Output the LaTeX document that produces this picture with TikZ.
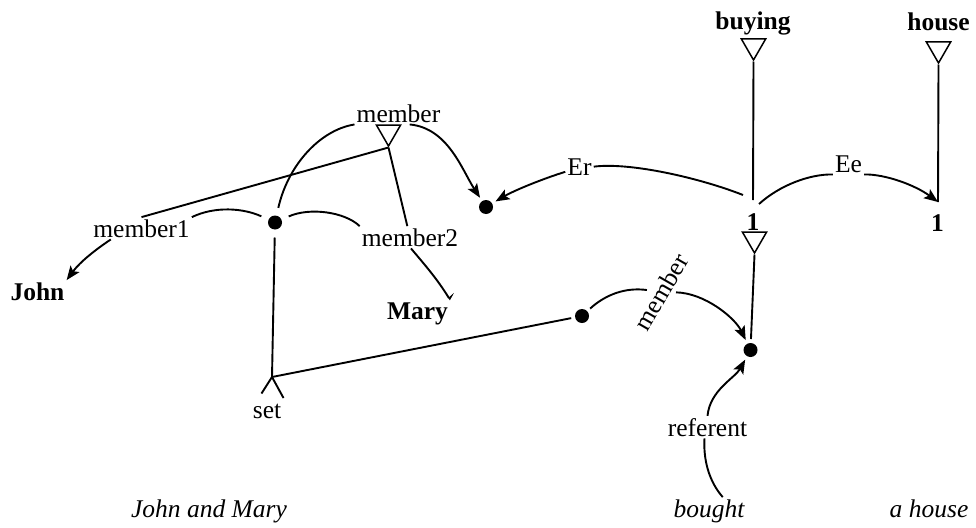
\documentclass[tikz,border=0pt]{standalone}
\usepackage{fontspec}
\setmainfont{Liberation Serif}
\usetikzlibrary{arrows.meta,shapes.geometric}
\begin{document}
\begin{tikzpicture}[x=1pt,y=-1pt,
  every node/.style={font=\fontsize{25.5}{30}\selectfont},
  lbl/.style={inner sep=2pt, anchor=base},
  bld/.style={lbl, font=\fontsize{25.5}{30}\selectfont\bfseries},
  itl/.style={lbl, font=\fontsize{25.5}{30}\selectfont\itshape},
  tri/.style={draw, line width=1.5pt, regular polygon, regular polygon sides=3, shape border rotate=180, minimum size=28pt, inner sep=0pt},
  dot/.style={circle, fill, inner sep=0pt, minimum size=14pt, outer sep=4pt},
  ln/.style={line width=1.9pt},
  arr/.style={ln, -{Stealth[length=14pt,width=11pt,inset=3pt]}},
]
\useasboundingbox (0,0) rectangle (976,527);
% right part
\node[bld] (buying) at (753,30) {buying};
\node[tri] (tb) at (753.5,46) {};
\node[bld] (house) at (938.5,30.5) {house};
\node[tri] (th) at (938.5,49) {};
\coordinate (j1) at (753,200);
\coordinate (j2) at (938,202);
\coordinate (erS) at (743,195);
\coordinate (eeS) at (759,204);
\node[bld] (one1) at (753,230) {1};
\node[bld] (one2) at (937.5,231) {1};
\node[tri] (tb2) at (754.5,239) {};
\node[lbl] (Er) at (579.5,175) {Er};
\node[lbl] (Ee) at (848.5,172) {Ee};
\node[dot] (d2) at (486,207) {};
\node[dot] (d3) at (582,316) {};
\node[dot] (d4) at (750.5,350) {};
\node[lbl, rotate=60, inner sep=4pt, anchor=center] (mem3) at (661,292) {member};
\node[lbl] (referent) at (707.5,436) {referent};
\node[itl] (bought) at (709,517) {bought};
\node[itl] (ahouse) at (929,517) {a house};
\node[itl] (jm) at (209,517) {John and Mary};
% left part
\node[lbl] (member) at (398.5,122) {member};
\node[tri] (tm) at (388.5,132) {};
\node[lbl] (member1) at (141.5,237) {member1};
\node[lbl] (member2) at (410,246) {member2};
\node[dot, outer sep=8pt] (d1) at (275,222.5) {};
\node[bld] (John) at (37.5,300) {John};
\node[bld] (Mary) at (417.5,319) {Mary};
\coordinate (setA) at (272,377);
\coordinate (setL) at (261.5,393.5);
\coordinate (setR) at (283.5,398);
\node[lbl] (set) at (267,418) {set};
% connectors
\draw[ln] (tb.south) -- (j1);
\draw[ln] (th.south) -- (j2);
\draw[ln] (tb2.south) -- (d4);
\draw[ln] (erS) .. controls (700,178) and (630,162) .. (Er.east);
\draw[arr] (Er.-160) .. controls (545,178) and (515,190) .. (d2);
\draw[ln] (eeS) .. controls (780,185) and (810,174) .. (Ee.south west);
\draw[arr] (Ee.south east) .. controls (885,174) and (915,185) .. (j2);
\draw[ln] (tm.south) -- (member1.north);
\draw[ln] (tm.south) -- (member2);
\draw[ln] (d1) .. controls (288,165) and (320,130) .. (member.south west);
\draw[arr] (member.-45) .. controls (448,128) and (462,170) .. (d2);
\draw[ln] (member1.north east) .. controls (215,206) and (243,208) .. (d1);
\draw[ln] (d1) .. controls (310,207) and (345,212) .. (member2.north west);
\draw[arr] (member1.-160) .. controls (95,250) and (80,262) .. (John.north east);
\draw[ln, -{Stealth[harpoon,length=4pt,width=14pt]}] (member2.-85) .. controls (425,265) and (438,280) .. (Mary.north east);
\draw[ln] (d1) -- (setA);
\draw[ln] (setL) -- (setA) -- (setR);
\draw[ln] (setA) -- (d3);
\draw[ln] (d3) .. controls (605,295) and (625,287) .. (mem3);
\draw[arr] (mem3) .. controls (705,293) and (735,318) .. (d4);
\draw[arr] (referent.north) .. controls (710,390) and (735,378) .. (d4);
\draw[ln] (referent.-105) .. controls (703,465) and (712,485) .. (bought.45);
\end{tikzpicture}
\end{document}
